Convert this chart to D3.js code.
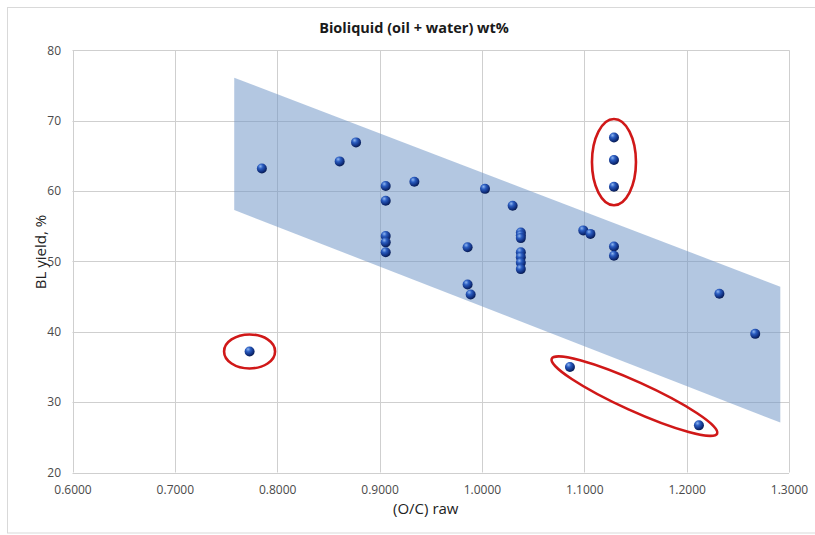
<!DOCTYPE html>
<html>
<head>
<meta charset="utf-8">
<script src="https://cdn.jsdelivr.net/npm/d3@7"></script>
<style>
  html, body { margin: 0; padding: 0; background: #ffffff; }
  svg { display: block; }
  text { font-family: "Open Sans", "Liberation Sans", sans-serif; }
</style>
</head>
<body>
<div id="chart"></div>
<script>
// O/C ratio (raw) and bioliquid yield (wt%) for each sample
const ocRaw = [
  0.785, 0.861, 0.877, 0.906, 0.906, 0.934, 0.906, 0.906, 0.906,
  0.986, 0.986, 0.989, 1.003, 1.030,
  1.038, 1.038, 1.038, 1.038, 1.038, 1.038, 1.038,
  1.099, 1.106, 1.129, 1.129, 1.129, 1.129, 1.129,
  1.232, 1.267, 1.086, 1.212, 0.773
];
const blYield = [
  63.2, 64.2, 66.9, 60.7, 58.6, 61.3, 53.6, 52.7, 51.3,
  52.0, 46.7, 45.3, 60.3, 57.9,
  54.1, 53.7, 53.3, 51.3, 50.6, 49.8, 48.9,
  54.4, 53.9, 52.1, 50.8, 67.6, 64.4, 60.6,
  45.4, 39.7, 35.0, 26.7, 37.2
];

// Trend band: upper and lower limits at the two ends
const bandOC = [0.758, 1.2915];
const bandUpper = [76.1, 46.4];
const bandLower = [57.3, 27.1];

// Samples singled out as outliers (indices into the arrays above)
const outlierGroups = [[32], [25, 26, 27], [30, 31]];

// Axis ticks
const xTicks = [0.6, 0.7, 0.8, 0.9, 1.0, 1.1, 1.2, 1.3];
const yTicks = [20, 30, 40, 50, 60, 70, 80];

const W = 815, H = 535;
const plot = { left: 72.5, right: 789, top: 50.2, bottom: 472.5 };

const svg = d3.select("#chart").append("svg")
  .attr("width", W).attr("height", H);

svg.append("rect").attr("width", W).attr("height", H).attr("fill", "#ffffff");

// chart frame
svg.append("rect")
  .attr("x", 7.5).attr("y", 7.5)
  .attr("width", W + 10).attr("height", 525.5)
  .attr("fill", "none").attr("stroke", "#d9d9d9").attr("stroke-width", 1);

const x = d3.scaleLinear().domain([0.6, 1.3]).range([plot.left, plot.right]);
const y = d3.scaleLinear().domain([20, 80]).range([plot.bottom, plot.top]);

// sphere shading for markers
const defs = svg.append("defs");
const grad = defs.append("radialGradient").attr("id", "ball")
  .attr("cx", "38%").attr("cy", "32%").attr("r", "70%").attr("fx", "35%").attr("fy", "28%");
grad.append("stop").attr("offset", "0%").attr("stop-color", "#8fb6f0");
grad.append("stop").attr("offset", "35%").attr("stop-color", "#2a5cc0");
grad.append("stop").attr("offset", "80%").attr("stop-color", "#0e2b78");
grad.append("stop").attr("offset", "100%").attr("stop-color", "#081a4a");

// gridlines
const grid = svg.append("g").attr("stroke", "#cfcfcf").attr("stroke-width", 1);
grid.selectAll("line.h").data(yTicks).join("line").attr("class", "h")
  .attr("x1", plot.left).attr("x2", plot.right)
  .attr("y1", d => Math.round(y(d)) + 0.5).attr("y2", d => Math.round(y(d)) + 0.5);
grid.selectAll("line.v").data(xTicks).join("line").attr("class", "v")
  .attr("y1", plot.top).attr("y2", plot.bottom)
  .attr("x1", d => Math.round(x(d)) + 0.5).attr("x2", d => Math.round(x(d)) + 0.5);

// trend band (translucent, so the gridlines show through darker)
const bandPts = bandOC.map((v, i) => [x(v), y(bandUpper[i])])
  .concat(bandOC.map((v, i) => [x(v), y(bandLower[i])]).reverse());
svg.append("path")
  .attr("d", d3.line()(bandPts) + "Z")
  .attr("fill", "rgb(110,147,198)").attr("fill-opacity", 0.52);

// axes
const xAxis = svg.append("g")
  .attr("transform", `translate(0,${plot.bottom})`)
  .call(d3.axisBottom(x).tickValues(xTicks).tickFormat(d3.format(".4f")).tickSize(0).tickPadding(13));
const yAxis = svg.append("g")
  .attr("transform", `translate(${plot.left},0)`)
  .call(d3.axisLeft(y).tickValues(yTicks).tickFormat(d3.format("d")).tickSize(0).tickPadding(11.5));
[xAxis, yAxis].forEach(a => {
  a.select(".domain").remove();
  a.selectAll("text").attr("fill", "#4a4a4a").style("font-size", "12px")
    .style("font-family", "'Open Sans', sans-serif");
});

// outlier ellipses, fitted round each group of samples
const ellipseStyle = [
  { pad: 25.5, minor: 17 },
  { pad: 18.5, minor: 22 },
  { pad: 20, minor: 14.5 }
];
const ellG = svg.append("g");
outlierGroups.forEach((grp, gi) => {
  const pts = grp.map(i => [x(ocRaw[i]), y(blYield[i])]);
  const a = pts[0], b = pts[pts.length - 1];
  const cx = (a[0] + b[0]) / 2, cy = (a[1] + b[1]) / 2;
  const half = Math.hypot(b[0] - a[0], b[1] - a[1]) / 2;
  const ang = grp.length > 1 ? Math.atan2(b[1] - a[1], b[0] - a[0]) * 180 / Math.PI : 0;
  const s = ellipseStyle[gi];
  ellG.append("ellipse")
    .attr("transform", `translate(${cx},${cy}) rotate(${ang})`)
    .attr("rx", half + s.pad).attr("ry", s.minor)
    .attr("fill", "none").attr("stroke", "#d01818").attr("stroke-width", 2.6);
});

// sample markers
svg.append("g").selectAll("circle").data(ocRaw).join("circle")
  .attr("cx", (d) => x(d))
  .attr("cy", (d, i) => y(blYield[i]))
  .attr("r", 5)
  .attr("fill", "url(#ball)");

// titles
svg.append("text")
  .attr("x", 414).attr("y", 33)
  .attr("text-anchor", "middle")
  .style("font-size", "14.5px").style("font-weight", "bold").attr("fill", "#1a1a1a")
  .text("Bioliquid (oil + water) wt%");

svg.append("text")
  .attr("x", (plot.left + plot.right) / 2 - 5).attr("y", 514)
  .attr("text-anchor", "middle")
  .style("font-size", "15px").attr("fill", "#222222")
  .text("(O/C) raw");

svg.append("text")
  .attr("transform", `translate(46,252) rotate(-90)`)
  .attr("text-anchor", "middle")
  .style("font-size", "15px").attr("fill", "#222222")
  .text("BL yield, %");
</script>
</body>
</html>
